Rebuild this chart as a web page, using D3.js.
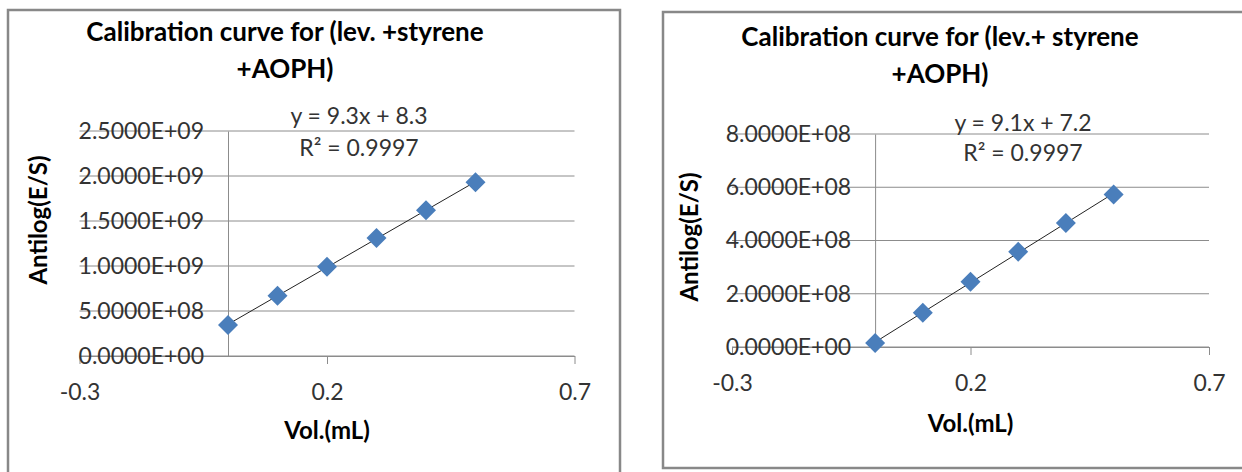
<!DOCTYPE html>
<html>
<head>
<meta charset="utf-8">
<script src="https://cdn.jsdelivr.net/npm/d3@7"></script>
<style>
  body { margin: 0; background: #fff; }
  text { font-family: Lato, "Open Sans", sans-serif; }
</style>
</head>
<body>
<svg width="1242" height="472"></svg>
<script>
const svg = d3.select('svg');

// data
const volumes = [0, 0.1, 0.2, 0.3, 0.4, 0.5];
const antilogA = [3.44e8, 6.7e8, 9.93e8, 1.31e9, 1.62e9, 1.93e9];
const antilogB = [1.5e7, 1.29e8, 2.45e8, 3.58e8, 4.66e8, 5.73e8];
const xTicks = [-0.3, 0.2, 0.7];
const yTicksA = [0, 5e8, 1e9, 1.5e9, 2e9, 2.5e9];
const yTicksB = [0, 2e8, 4e8, 6e8, 8e8];
const titleA = ['Calibration curve for (lev. +styrene', '+AOPH)'];
const titleB = ['Calibration curve for (lev.+ styrene', '+AOPH)'];
const eqA = ['y = 9.3x + 8.3', 'R\u00B2 = 0.9997'];
const eqB = ['y = 9.1x + 7.2', 'R\u00B2 = 0.9997'];

const gridColor = '#8c8c8c';
const markColor = '#4a7ebb';

// Excel style sci format: 2.5000E+09
function sciFmt(d) {
    const parts = d.toExponential(4).split('e');
    let e = parts[1];
    const sign = e[0];
    e = e.slice(1).padStart(2, '0');
    return parts[0] + 'E' + sign + e;
}

function fitLine(xs, ys) {
    const mx = d3.mean(xs), my = d3.mean(ys);
    let num = 0, den = 0;
    xs.forEach((x, i) => { num += (x - mx) * (ys[i] - my); den += (x - mx) * (x - mx); });
    const slope = num / den;
    return { slope: slope, icpt: my - slope * mx };
}

function drawChart(c) {
    const g = svg.append('g');

    // chart frame
    g.append('rect')
        .attr('x', c.frame[0]).attr('y', c.frame[1])
        .attr('width', c.frame[2]).attr('height', c.frame[3])
        .attr('fill', 'none')
        .attr('stroke', '#888')
        .attr('stroke-width', 2.5);

    const x = d3.scaleLinear().domain([xTicks[0], xTicks[xTicks.length - 1]]).range(c.xRange);
    const y = d3.scaleLinear().domain([0, d3.max(c.yTicks)]).range(c.yRange);

    // horizontal gridlines
    g.selectAll('.grid')
        .data(c.yTicks)
        .enter()
        .append('line')
        .attr('x1', x.range()[0])
        .attr('x2', x.range()[1])
        .attr('y1', d => y(d))
        .attr('y2', d => y(d))
        .attr('stroke', gridColor)
        .attr('stroke-width', 1);

    // x axis (crosses at y = 0)
    const xAxis = g.append('g')
        .attr('transform', `translate(0,${y(0)})`)
        .call(d3.axisBottom(x).tickValues(xTicks).tickSize(8).tickSizeOuter(0)
            .tickPadding(c.xPad).tickFormat(d => d.toFixed(1)));
    xAxis.selectAll('path, line').attr('stroke', gridColor);
    xAxis.selectAll('text')
        .attr('fill', '#333')
        .style('font-size', '23px')
        .style('font-family', 'Lato, sans-serif');

    // y axis (crosses at x = 0)
    const yAxis = g.append('g')
        .attr('transform', `translate(${x(0)},0)`)
        .call(d3.axisLeft(y).tickValues(c.yTicks).tickSize(0).tickSizeOuter(0)
            .tickPadding(24).tickFormat(sciFmt));
    yAxis.selectAll('path').attr('stroke', gridColor);
    yAxis.selectAll('text')
        .attr('fill', '#333')
        .style('font-size', '23px')
        .style('font-family', 'Lato, sans-serif');

    // trendline
    const fit = fitLine(volumes, c.values);
    const x0 = d3.min(volumes), x1 = d3.max(volumes);
    g.append('line')
        .attr('x1', x(x0)).attr('y1', y(fit.slope * x0 + fit.icpt))
        .attr('x2', x(x1)).attr('y2', y(fit.slope * x1 + fit.icpt))
        .attr('stroke', '#222')
        .attr('stroke-width', 1);

    // diamond markers
    g.selectAll('.pt')
        .data(c.values)
        .enter()
        .append('path')
        .attr('d', d3.symbol(d3.symbolSquare, 200))
        .attr('transform', (d, i) => `translate(${x(volumes[i])},${y(d)}) rotate(45)`)
        .attr('fill', markColor);

    // title
    g.selectAll('.title')
        .data(c.title)
        .enter()
        .append('text')
        .attr('x', c.titlePos[0])
        .attr('y', (d, i) => c.titlePos[1] + i * 37)
        .attr('text-anchor', 'middle')
        .attr('fill', '#000')
        .style('font-size', '26px')
        .style('font-weight', 'bold')
        .text(d => d);

    // trendline equation
    g.selectAll('.eq')
        .data(c.eq)
        .enter()
        .append('text')
        .attr('x', c.eqPos[0])
        .attr('y', (d, i) => c.eqPos[1] + i * c.eqGap)
        .attr('text-anchor', 'middle')
        .attr('fill', '#333')
        .style('font-size', '23px')
        .text(d => d);

    // axis titles
    g.append('text')
        .attr('x', x(0.2))
        .attr('y', c.xTitleY)
        .attr('text-anchor', 'middle')
        .attr('fill', '#000')
        .style('font-size', '24px')
        .style('font-weight', 'bold')
        .text('Vol.(mL)');

    g.append('text')
        .attr('transform', `translate(${c.yTitlePos[0]},${c.yTitlePos[1]}) rotate(-90)`)
        .attr('text-anchor', 'middle')
        .attr('fill', '#000')
        .style('font-size', '24px')
        .style('font-weight', 'bold')
        .text('Antilog(E/S)');
}

drawChart({
    frame: [8, 10, 612, 480],
    xRange: [79.5, 574.5],
    yRange: [356, 131],
    yTicks: yTicksA,
    values: antilogA,
    xPad: 20,
    title: titleA,
    titlePos: [285, 41],
    eq: eqA,
    eqPos: [359, 124],
    eqGap: 32,
    xTitleY: 439,
    yTitlePos: [47, 220]
});

drawChart({
    frame: [663, 12, 600, 456],
    xRange: [732, 1209],
    yRange: [347, 134],
    yTicks: yTicksB,
    values: antilogB,
    xPad: 20,
    title: titleB,
    titlePos: [940, 46],
    eq: eqB,
    eqPos: [1023, 131],
    eqGap: 30,
    xTitleY: 432,
    yTitlePos: [698, 237]
});
</script>
</body>
</html>
